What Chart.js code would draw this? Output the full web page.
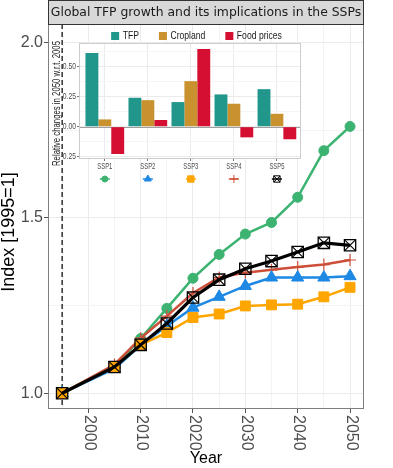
<!DOCTYPE html>
<html><head><meta charset="utf-8">
<script src="https://cdn.jsdelivr.net/npm/chart.js@4/dist/chart.umd.min.js"></script>
<style>
html,body{margin:0;padding:0;background:#fff;}
#wrap{position:relative;width:393px;height:468px;overflow:hidden;}
#main{position:absolute;left:0;top:0;}
#inset{position:absolute;left:44px;top:25px;}
</style></head><body>
<div id="wrap">
<canvas id="main" width="393" height="468"></canvas>
<canvas id="inset" width="262" height="170"></canvas>
</div>
<script>
// ---------------- data ----------------
const mainTitle = 'Global TFP growth and its implications in the SSPs';
const xTitle = 'Year';
const yTitle = 'Index [1995=1]';
const years = [1995, 2005, 2010, 2015, 2020, 2025, 2030, 2035, 2040, 2045, 2050];
const ssp1 = [1.000, 1.075, 1.156, 1.242, 1.328, 1.396, 1.454, 1.487, 1.559, 1.692, 1.761];
const ssp2 = [1.000, 1.070, 1.137, 1.192, 1.244, 1.275, 1.306, 1.330, 1.330, 1.330, 1.334];
const ssp3 = [1.000, 1.075, 1.138, 1.173, 1.216, 1.226, 1.249, 1.252, 1.254, 1.275, 1.302];
const ssp4 = [1.000, 1.082, 1.157, 1.220, 1.286, 1.330, 1.344, 1.352, 1.360, 1.367, 1.380];
const ssp5 = [1.000, 1.075, 1.138, 1.199, 1.273, 1.324, 1.355, 1.377, 1.403, 1.429, 1.422];
const scenarioNames = ['SSP1', 'SSP2', 'SSP3', 'SSP4', 'SSP5'];
const xTickYears = [2000, 2010, 2020, 2030, 2040, 2050];
const xGridYears = [1995, 2000, 2005, 2010, 2015, 2020, 2025, 2030, 2035, 2040, 2045, 2050];
const yTickValues = [1.0, 1.5, 2.0];
const yGridValues = [1.0, 1.25, 1.5, 1.75, 2.0];
const refYear = 1995;

const insetTitle = 'Relative changes in 2050 w.r.t. 2005';
const insetVarNames = ['TFP', 'Cropland', 'Food prices'];
const tfpChange = [0.617, 0.242, 0.206, 0.270, 0.314];
const croplandChange = [0.061, 0.222, 0.381, 0.192, 0.108];
const foodPriceChange = [-0.228, 0.056, 0.650, -0.089, -0.105];
const insetTickValues = [-0.25, 0, 0.25, 0.5];
const insetGridValues = [-0.25, -0.125, 0, 0.125, 0.25, 0.375, 0.5, 0.625];

// ---------------- styles ----------------
const FONT = "'Liberation Sans', Arial, Helvetica, sans-serif";
const seriesValues = [ssp1, ssp2, ssp3, ssp4, ssp5];
const seriesStyle = [
  {color: '#3CB371', point: 'circle',   r: 5,   pbw: 1,   lw: 2.5, order: 5, fill: '#3CB371'},
  {color: '#1E88E5', point: 'triangle', r: 7,   pbw: 1,   lw: 2.5, order: 3, fill: '#1E88E5'},
  {color: '#FFA500', point: 'rect',     r: 7,   pbw: 1,   lw: 2.5, order: 2, fill: '#FFA500'},
  {color: '#CD4F39', point: 'cross',    r: 6,   pbw: 1.2, lw: 2.5, order: 4, fill: '#CD4F39'},
  {color: '#000000', point: 'rect',     r: 8,   pbw: 1.3, lw: 3.2, order: 1, fill: 'rgba(0,0,0,0)'}
];
const barColors = ['#21968A', '#C9922E', '#D40F31'];

// draw text squeezed horizontally (narrow face look)
function narrowText(ctx, text, x, y, font, sx, align, rot) {
  ctx.save();
  ctx.font = font;
  ctx.textBaseline = 'middle';
  ctx.textAlign = align;
  ctx.translate(x, y);
  if (rot) ctx.rotate(rot);
  ctx.scale(sx, 1);
  ctx.fillText(text, 0, 0);
  ctx.restore();
}

// ---------------- main chart ----------------
const mainDatasets = seriesValues.map((vals, i) => ({
  label: scenarioNames[i],
  data: years.map((x, j) => ({x: x, y: vals[j]})),
  borderColor: seriesStyle[i].color,
  backgroundColor: seriesStyle[i].fill,
  pointBackgroundColor: seriesStyle[i].fill,
  pointBorderColor: seriesStyle[i].color,
  pointStyle: seriesStyle[i].point,
  pointRadius: seriesStyle[i].r,
  pointBorderWidth: seriesStyle[i].pbw,
  borderWidth: seriesStyle[i].lw,
  tension: 0,
  order: seriesStyle[i].order
}));
mainDatasets.push({
  label: 'SSP5 x',
  data: years.map((x, j) => ({x: x, y: ssp5[j]})),
  showLine: false,
  pointStyle: 'crossRot',
  pointRadius: 8,
  pointBorderWidth: 1.1,
  pointBorderColor: '#000',
  pointBackgroundColor: 'rgba(0,0,0,0)',
  order: 0
});

const mainDecor = {
  id: 'mainDecor',
  beforeDatasetsDraw(chart) {
    const {ctx, chartArea: a, scales: {x}} = chart;
    const px = x.getPixelForValue(refYear);
    ctx.save();
    ctx.strokeStyle = '#000';
    ctx.lineWidth = 1.2;
    ctx.setLineDash([5, 3]);
    ctx.beginPath();
    ctx.moveTo(px, a.top);
    ctx.lineTo(px, a.bottom);
    ctx.stroke();
    ctx.restore();
  },
  afterDraw(chart) {
    const {ctx, chartArea: a, scales: {x}} = chart;
    ctx.save();
    ctx.strokeStyle = '#7F7F7F';
    ctx.lineWidth = 1;
    ctx.strokeRect(a.left + 0.5, a.top + 0.5, a.right - a.left - 1, a.bottom - a.top - 1);
    ctx.fillStyle = '#D9D9D9';
    ctx.fillRect(a.left, 0, a.right - a.left, a.top);
    ctx.strokeStyle = '#333333';
    ctx.strokeRect(a.left + 0.5, 0.5, a.right - a.left - 1, a.top);
    ctx.fillStyle = '#1A1A1A';
    ctx.font = "12.4px 'DejaVu Sans', sans-serif";
    ctx.textAlign = 'center';
    ctx.textBaseline = 'middle';
    ctx.fillText(mainTitle, (a.left + a.right) / 2, a.top / 2 + 0.5);
    ctx.fillStyle = '#4D4D4D';
    ctx.font = '16px ' + FONT;
    ctx.textAlign = 'left';
    ctx.textBaseline = 'middle';
    xTickYears.forEach(yr => {
      const px = x.getPixelForValue(yr);
      ctx.save();
      ctx.translate(px + 1, a.bottom + 6);
      ctx.rotate(Math.PI / 2);
      ctx.fillText(String(yr), 0, 0);
      ctx.restore();
    });
    ctx.save();
    ctx.fillStyle = '#000';
    ctx.font = '18px ' + FONT;
    ctx.textAlign = 'center';
    ctx.textBaseline = 'middle';
    ctx.translate(9, 232);
    ctx.rotate(-Math.PI / 2);
    ctx.fillText(yTitle, 0, 0);
    ctx.restore();
    ctx.restore();
  }
};

new Chart(document.getElementById('main'), {
  type: 'line',
  data: {datasets: mainDatasets},
  plugins: [mainDecor],
  options: {
    responsive: false,
    animation: false,
    devicePixelRatio: 1,
    layout: {padding: {top: 24, right: 29, left: 0, bottom: 0}},
    plugins: {legend: {display: false}, tooltip: {enabled: false}},
    scales: {
      x: {
        type: 'linear', min: 1992.3, max: 2052.67,
        afterBuildTicks: s => { s.ticks = xGridYears.map(v => ({value: v})); },
        afterFit: s => { s.height = 59; },
        ticks: {display: false, autoSkip: false},
        grid: {
          color: c => (xTickYears.includes(c.tick && c.tick.value) ? '#EBEBEB' : '#F3F3F3'),
          lineWidth: 1, drawTicks: true, tickLength: 4,
          tickColor: c => (xTickYears.includes(c.tick && c.tick.value) ? '#555' : 'rgba(0,0,0,0)')
        },
        border: {display: false},
        title: {display: true, text: xTitle, color: '#000', font: {family: FONT, size: 16}, padding: {top: 0, bottom: 0}}
      },
      y: {
        type: 'linear', min: 0.955, max: 2.0533,
        afterBuildTicks: s => { s.ticks = yGridValues.map(v => ({value: v})); },
        afterFit: s => { s.width = 48; },
        ticks: {
          autoSkip: false, padding: 1, color: '#4D4D4D', font: {family: FONT, size: 16},
          callback: v => (yTickValues.includes(v) ? v.toFixed(1) : '')
        },
        grid: {
          color: c => (yTickValues.includes(c.tick && c.tick.value) ? '#EBEBEB' : '#F3F3F3'),
          lineWidth: 1, drawTicks: true, tickLength: 4,
          tickColor: c => (yTickValues.includes(c.tick && c.tick.value) ? '#555' : 'rgba(0,0,0,0)')
        },
        border: {display: false}
      }
    }
  }
});

// ---------------- inset chart ----------------
const insetSeries = [tfpChange, croplandChange, foodPriceChange];
const insetDatasets = insetSeries.map((vals, i) => ({
  label: insetVarNames[i],
  data: vals.map((v, k) => ({x: k + 1, y: v})),
  backgroundColor: barColors[i],
  borderWidth: 0
}));

const keyStyle = [
  {point: 'circle', r: 3},
  {point: 'triangle', r: 4},
  {point: 'rect', r: 4.5},
  {point: 'cross', r: 4},
  {point: 'rect', r: 4.5, extra: 'crossRot'}
];

const insetDecor = {
  id: 'insetDecor',
  beforeDraw(chart) {
    const {ctx, chartArea: a} = chart;
    ctx.save();
    ctx.fillStyle = '#FFFFFF';
    ctx.fillRect(a.left, a.top, a.right - a.left, a.bottom - a.top);
    ctx.restore();
  },
  beforeDatasetsDraw(chart) {
    const {ctx, chartArea: a, scales: {y}} = chart;
    const py = Math.round(y.getPixelForValue(0)) + 0.5;
    ctx.save();
    ctx.strokeStyle = '#A0A0A0';
    ctx.lineWidth = 1;
    ctx.beginPath();
    ctx.moveTo(a.left, py);
    ctx.lineTo(a.right, py);
    ctx.stroke();
    ctx.restore();
  },
  afterDraw(chart) {
    const {ctx, chartArea: a, scales: {x, y}} = chart;
    ctx.save();
    ctx.strokeStyle = '#CCCCCC';
    ctx.lineWidth = 1;
    ctx.strokeRect(a.left + 0.5, a.top + 0.5, a.right - a.left - 1, a.bottom - a.top - 1);
    // y-axis title (narrow look)
    ctx.fillStyle = '#1A1A1A';
    ctx.font = '10px ' + FONT;
    const tw = ctx.measureText(insetTitle).width;
    narrowText(ctx, insetTitle, 13, (a.top + a.bottom) / 2 + 2.5, '10px ' + FONT, 125 / tw, 'center', -Math.PI / 2);
    // y tick labels
    ctx.fillStyle = '#4D4D4D';
    insetTickValues.forEach(v => {
      narrowText(ctx, v.toFixed(2), a.left - 3, y.getPixelForValue(v), '8.5px ' + FONT, 0.8, 'right', 0);
    });
    // category labels
    scenarioNames.forEach((n, k) => {
      narrowText(ctx, n, x.getPixelForValue(k + 1), a.bottom + 7.5, '9.5px ' + FONT, 0.62, 'center', 0);
    });
    // legend
    ctx.font = '10.5px ' + FONT;
    const sx = 0.82;
    const box = 8, gapBT = 3.5, gapItem = 20;
    const widths = insetVarNames.map(t => ctx.measureText(t).width * sx);
    const total = widths.reduce((s, w) => s + box + gapBT + w, 0) + gapItem * (insetVarNames.length - 1);
    let cx = (a.left + a.right) / 2 + 6.5 - total / 2;
    const cy = a.top - 7;
    insetVarNames.forEach((t, i) => {
      ctx.fillStyle = barColors[i];
      ctx.fillRect(cx, cy - box / 2, box, box);
      ctx.fillStyle = '#1A1A1A';
      narrowText(ctx, t, cx + box + gapBT, cy + 0.5, '10.5px ' + FONT, sx, 'left', 0);
      cx += box + gapBT + widths[i] + gapItem;
    });
    // series keys below category labels
    const ky = a.bottom + 20;
    scenarioNames.forEach((name, i) => {
      const px = x.getPixelForValue(i + 1);
      const st = seriesStyle[i];
      const ks = keyStyle[i];
      ctx.strokeStyle = st.color;
      ctx.lineWidth = 1.5;
      ctx.beginPath();
      ctx.moveTo(px - 5, ky);
      ctx.lineTo(px + 5, ky);
      ctx.stroke();
      ctx.fillStyle = st.fill;
      ctx.strokeStyle = st.color;
      ctx.lineWidth = 1;
      Chart.helpers.drawPoint(ctx, {pointStyle: ks.point, radius: ks.r, borderWidth: 1, rotation: 0}, px, ky);
      if (ks.extra) {
        Chart.helpers.drawPoint(ctx, {pointStyle: ks.extra, radius: ks.r, borderWidth: 1, rotation: 0}, px, ky);
      }
    });
    ctx.restore();
  }
};

new Chart(document.getElementById('inset'), {
  type: 'bar',
  data: {datasets: insetDatasets},
  plugins: [insetDecor],
  options: {
    responsive: false,
    animation: false,
    devicePixelRatio: 1,
    layout: {padding: {top: 18, right: 5, left: 0, bottom: 0}},
    plugins: {legend: {display: false}, tooltip: {enabled: false}},
    datasets: {bar: {categoryPercentage: 0.9, barPercentage: 1}},
    scales: {
      x: {
        type: 'linear', min: 0.4, max: 5.56, offset: false,
        afterBuildTicks: s => { s.ticks = scenarioNames.map((n, k) => ({value: k + 1})); },
        afterFit: s => { s.height = 36; },
        ticks: {display: false, autoSkip: false},
        grid: {offset: false, color: '#EBEBEB', lineWidth: 1, drawTicks: true, tickLength: 2, tickColor: '#777'},
        border: {display: false}
      },
      y: {
        type: 'linear', min: -0.27, max: 0.70, beginAtZero: false,
        afterBuildTicks: s => { s.ticks = insetGridValues.map(v => ({value: v})); },
        afterFit: s => { s.width = 35; },
        ticks: {display: false, autoSkip: false},
        grid: {
          color: c => (insetTickValues.includes(c.tick && c.tick.value) ? '#EBEBEB' : '#F5F5F5'),
          lineWidth: 1, drawTicks: true, tickLength: 2,
          tickColor: c => (insetTickValues.includes(c.tick && c.tick.value) ? '#777' : 'rgba(0,0,0,0)')
        },
        border: {display: false}
      }
    }
  }
});
</script>
</body></html>
